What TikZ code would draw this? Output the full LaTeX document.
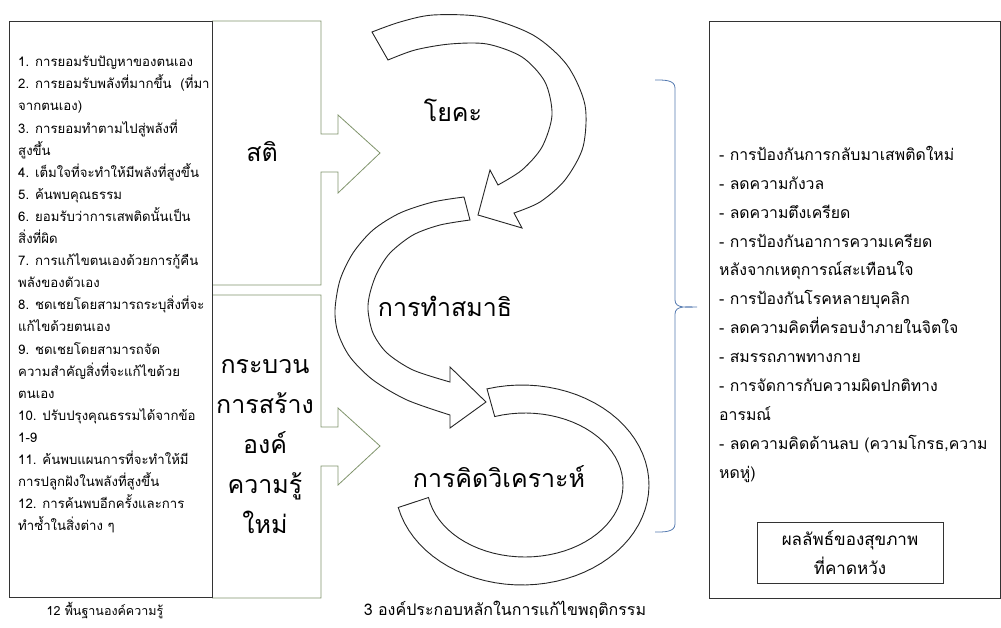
\documentclass[tikz,border=0pt]{standalone}
\usepackage{fontspec}
\setmainfont[Script=Thai]{Loma}
\usetikzlibrary{positioning}

\definecolor{boxgreen}{RGB}{128,148,108}
\definecolor{bracketblue}{RGB}{84,122,176}
\newcommand\listfont[2]{\fontsize{#1}{#2}\selectfont\lineskiplimit=-100pt\relax}

\begin{document}
\begin{tikzpicture}[x=1pt,y=-1pt,
  outline/.style={draw=black!80, line width=0.9pt},
  callout/.style={draw=boxgreen, line width=0.8pt},
  curvy/.style={draw=black!85, line width=0.9pt, fill=white},
  bigtext/.style={font=\fontsize{25}{40}\selectfont, inner sep=0pt},
  listtext/.style={align=left, anchor=north west, inner sep=0pt}]
\useasboundingbox (0,0) rectangle (1001,627);

% right arrow callouts
\draw[callout] (212,21) -- (321,21) -- (321,134) -- (338,134) -- (338,115) -- (380,153) -- (338,193) -- (338,172) -- (321,172) -- (321,285) -- (212,285);
\draw[callout] (212,295) -- (321,295) -- (321,427) -- (338,427) -- (338,408) -- (380,446) -- (338,485) -- (338,466) -- (321,466) -- (321,598) -- (212,598);

% the boxes
\draw[outline] (9,21) rectangle (212,597);
\draw[outline] (709,21) rectangle (1000,598);

\node[listtext, font=\listfont{13.2}{22.1}] (basics) at (18,56) {%
1. การยอมรับปัญหาของตนเอง\\
2. การยอมรับพลังที่มากขึ้น\ \ (ที่มา\\
จากตนเอง)\\
3. การยอมทำตามไปสู่พลังที่\\
สูงขึ้น\\
4. เต็มใจที่จะทำให้มีพลังที่สูงขึ้น\\
5. ค้นพบคุณธรรม\\
6. ยอมรับว่าการเสพติดนั้นเป็น\\
สิ่งที่ผิด\\
7. การแก้ไขตนเองด้วยการกู้คืน\\
พลังของตัวเอง\\
8. ชดเชยโดยสามารถระบุสิ่งที่จะ\\
แก้ไขด้วยตนเอง\\
9. ชดเชยโดยสามารถจัด\\
ความสำคัญสิ่งที่จะแก้ไขด้วย\\
ตนเอง\\
10. ปรับปรุงคุณธรรมได้จากข้อ\\
1-9\\
11. ค้นพบแผนการที่จะทำให้มี\\
การปลูกฝังในพลังที่สูงขึ้น\\
12. การค้นพบอีกครั้งและการ\\
ทำซ้ำในสิ่งต่าง ๆ};

\node[listtext, font=\listfont{15.8}{28.9}] (outcomes) at (719,146) {%
- การป้องกันการกลับมาเสพติดใหม่\\
- ลดความกังวล\\
- ลดความตึงเครียด\\
- การป้องกันอาการความเครียด\\
หลังจากเหตุการณ์สะเทือนใจ\\
- การป้องกันโรคหลายบุคลิก\\
- ลดความคิดที่ครอบงำภายในจิตใจ\\
- สมรรถภาพทางกาย\\
- การจัดการกับความผิดปกติทาง\\
อารมณ์\\
- ลดความคิดด้านลบ (ความโกรธ,ความ\\
หดหู่)};

\node[outline, minimum width=186, minimum height=61, align=center,
  font=\fontsize{17}{29}\selectfont] (expected) at (850,552.5) {ผลลัพธ์ของสุขภาพ\\ที่คาดหวัง};

% labels in the callouts
\node[bigtext] (sati) at (262,152) {สติ};
\node[bigtext, align=center] (process) at (265,447) {กระบวน\\การสร้าง\\องค์\\ความรู้\\ใหม่};

% three curved arrows
\draw[curvy] plot[domain=-106:167, samples=60] ({522+127*cos(\x)},{485+100*sin(\x)})
  -- plot[domain=170:-108, samples=60] ({525+98*cos(\x)},{485+72*sin(\x)}) -- cycle;
\draw[curvy] plot[smooth] coordinates {(464,197) (433,202) (400,213) (373,230) (353,253) (340,280) (335,310) (338,333) (350,357) (373,380) (407,400) (450,415)}
  -- (450,428) -- (486,402) -- (450,367) -- (450,382)
  -- plot[smooth] coordinates {(450,382) (413,370) (387,353) (373,333) (368,310) (370,293) (377,273) (390,253) (413,235) (440,225) (470,220)} -- cycle;
\draw[curvy] plot[smooth] coordinates {(372,32) (400,22) (433,15) (483,17) (533,35) (567,65) (585,105) (583,147) (565,180) (540,202) (514,213)}
  -- (522,228) -- (478,215) -- (490,170) -- (498,185)
  -- plot[smooth] coordinates {(498,185) (522,170) (542,147) (552,115) (545,82) (522,57) (487,44) (450,44) (415,50) (388,60)} -- cycle;

\node[bigtext] (yoga) at (453,110) {โยคะ};
\node[bigtext] (samadhi) at (445,306) {การทำสมาธิ};
\node[bigtext] (analysis) at (499,477) {การคิดวิเคราะห์};

% bracket
\draw[bracketblue, line width=0.8pt] (655,80) to[out=0,in=90] (675,88) -- (675,300)
  to[out=-90,in=180] (697,307) to[out=180,in=90] (675,314) -- (675,524) to[out=-90,in=0] (655,532);

% captions
\node[font=\fontsize{12.5}{15}\selectfont] (cap12) at (105,610) {12 พื้นฐานองค์ความรู้};
\node[font=\fontsize{16}{18}\selectfont] (cap3) at (505,610) {3 องค์ประกอบหลักในการแก้ไขพฤติกรรม};
\end{tikzpicture}
\end{document}
